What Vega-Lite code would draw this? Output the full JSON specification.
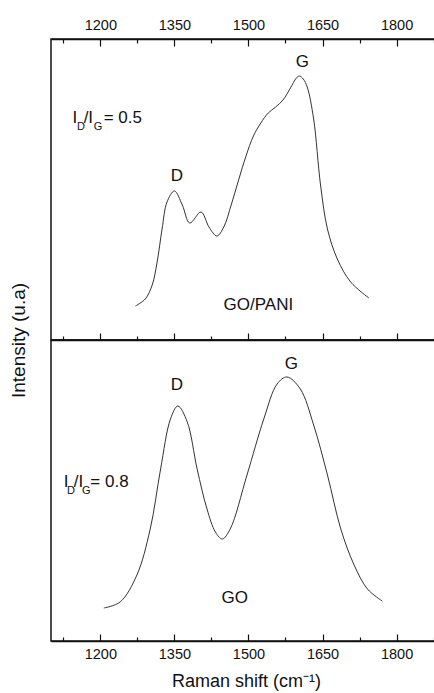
{
  "$schema": "https://vega.github.io/schema/vega-lite/v6.json",
  "padding": {"left": 8, "top": 16, "right": 0, "bottom": 1},
  "bounds": "flush",
  "config": {
    "font": "Liberation Sans",
    "view": {"stroke": "#111", "strokeWidth": 1.5},
    "concat": {"spacing": 0},
    "axis": {"grid": false, "labelColor": "#111", "titleColor": "#111", "domainColor": "#111", "tickColor": "#111"}
  },
  "datasets": {
    "gopani": [
      {"shift": 1271, "intensity": 34}, {"shift": 1291, "intensity": 41}, {"shift": 1305, "intensity": 55},
      {"shift": 1315, "intensity": 78}, {"shift": 1325, "intensity": 111}, {"shift": 1335, "intensity": 138},
      {"shift": 1350, "intensity": 149}, {"shift": 1366, "intensity": 135}, {"shift": 1381, "intensity": 117},
      {"shift": 1404, "intensity": 128}, {"shift": 1420, "intensity": 113}, {"shift": 1436, "intensity": 104},
      {"shift": 1450, "intensity": 113}, {"shift": 1465, "intensity": 135}, {"shift": 1480, "intensity": 160},
      {"shift": 1495, "intensity": 184}, {"shift": 1510, "intensity": 204}, {"shift": 1525, "intensity": 217},
      {"shift": 1540, "intensity": 227}, {"shift": 1555, "intensity": 233}, {"shift": 1570, "intensity": 240},
      {"shift": 1585, "intensity": 252}, {"shift": 1597, "intensity": 262}, {"shift": 1603, "intensity": 264},
      {"shift": 1611, "intensity": 261}, {"shift": 1619, "intensity": 253}, {"shift": 1632, "intensity": 221},
      {"shift": 1646, "intensity": 155}, {"shift": 1660, "intensity": 111}, {"shift": 1680, "intensity": 81},
      {"shift": 1707, "intensity": 58}, {"shift": 1744, "intensity": 42}
    ],
    "go": [
      {"shift": 1207, "intensity": 33}, {"shift": 1240, "intensity": 39}, {"shift": 1274, "intensity": 66},
      {"shift": 1301, "intensity": 112}, {"shift": 1322, "intensity": 172}, {"shift": 1342, "intensity": 222},
      {"shift": 1357, "intensity": 235}, {"shift": 1376, "intensity": 219}, {"shift": 1396, "intensity": 172},
      {"shift": 1416, "intensity": 132}, {"shift": 1433, "intensity": 109}, {"shift": 1447, "intensity": 102},
      {"shift": 1463, "intensity": 112}, {"shift": 1497, "intensity": 166}, {"shift": 1531, "intensity": 222},
      {"shift": 1558, "intensity": 257}, {"shift": 1578, "intensity": 264}, {"shift": 1605, "intensity": 252},
      {"shift": 1632, "intensity": 216}, {"shift": 1660, "intensity": 166}, {"shift": 1687, "intensity": 112},
      {"shift": 1714, "intensity": 76}, {"shift": 1741, "intensity": 52}, {"shift": 1771, "intensity": 40}
    ],
    "ann_top": [
      {"shift": 1355, "intensity": 164, "text": "D", "kind": "peak"},
      {"shift": 1609, "intensity": 278, "text": "G", "kind": "peak"},
      {"shift": 1520, "intensity": 35, "text": "GO/PANI", "kind": "peak"},
      {"shift": 1143.6, "intensity": 222, "text": "I", "kind": "ratio"},
      {"shift": 1152.8, "intensity": 213, "text": "D", "kind": "sub"},
      {"shift": 1166.1, "intensity": 222, "text": "/I", "kind": "ratio"},
      {"shift": 1186.4, "intensity": 213, "text": "G", "kind": "sub"},
      {"shift": 1206.7, "intensity": 222, "text": "= 0.5", "kind": "ratio"}
    ],
    "ann_bot": [
      {"shift": 1355, "intensity": 256, "text": "D", "kind": "peak"},
      {"shift": 1587, "intensity": 277, "text": "G", "kind": "peak"},
      {"shift": 1472, "intensity": 43, "text": "GO", "kind": "peak"},
      {"shift": 1125.6, "intensity": 159, "text": "I", "kind": "ratio"},
      {"shift": 1132.5, "intensity": 150, "text": "D", "kind": "sub"},
      {"shift": 1145.9, "intensity": 159, "text": "/I", "kind": "ratio"},
      {"shift": 1162.9, "intensity": 150, "text": "G", "kind": "sub"},
      {"shift": 1179.7, "intensity": 159, "text": "= 0.8", "kind": "ratio"}
    ]
  },
  "vconcat": [
    {
      "width": 390,
      "height": 301,
      "resolve": {"axis": {"x": "independent"}},
      "encoding": {
        "y": {"field": "intensity", "type": "quantitative", "scale": {"domain": [0, 301]},
              "axis": {"title": "Intensity (u.a)", "ticks": false, "labels": false, "domain": false,
                       "titleFontSize": 19, "titleFontWeight": "normal", "titleX": -33, "titleY": 301,
                       "titleAngle": -90, "titleAlign": "center", "titleBaseline": "middle"}}
      },
      "layer": [
        {
          "data": {"name": "gopani"},
          "mark": {"type": "line", "interpolate": "catmull-rom", "color": "#333", "strokeWidth": 1},
          "encoding": {
            "x": {"field": "shift", "type": "quantitative", "scale": {"domain": [1100, 1890], "nice": false, "zero": false},
                  "axis": {"orient": "top", "title": null, "values": [1125, 1200, 1275, 1350, 1425, 1500, 1575, 1650, 1725, 1800, 1875],
                           "format": "d", "labelExpr": "datum.value % 150 === 0 ? datum.label : ''",
                           "tickSize": {"condition": {"test": "datum.value % 150 === 0", "value": -7}, "value": -4},
                           "tickWidth": 1.2, "domainWidth": 1.5, "labelFontSize": 14.5, "labelPadding": 14, "labelFlush": false}}
          }
        },
        {
          "data": {"name": "ann_top"},
          "transform": [{"filter": "datum.kind === 'peak'"}],
          "mark": {"type": "text", "fontSize": 17, "align": "center", "baseline": "middle", "color": "#111"},
          "encoding": {
            "x": {"field": "shift", "type": "quantitative",
                  "axis": {"orient": "bottom", "title": null, "labels": false, "values": [1125, 1200, 1275, 1350, 1425, 1500, 1575, 1650, 1725, 1800, 1875],
                           "tickSize": {"condition": {"test": "datum.value % 150 === 0", "value": -7}, "value": -4},
                           "tickWidth": 1.2, "domainWidth": 1.5}},
            "text": {"field": "text"}
          }
        },
        {
          "data": {"name": "ann_top"},
          "transform": [{"filter": "datum.kind === 'ratio'"}],
          "mark": {"type": "text", "fontSize": 17, "align": "left", "baseline": "middle", "color": "#111"},
          "encoding": {
            "x": {"field": "shift", "type": "quantitative", "axis": null},
            "text": {"field": "text"}
          }
        },
        {
          "data": {"name": "ann_top"},
          "transform": [{"filter": "datum.kind === 'sub'"}],
          "mark": {"type": "text", "fontSize": 11, "align": "left", "baseline": "middle", "color": "#111"},
          "encoding": {
            "x": {"field": "shift", "type": "quantitative", "axis": null},
            "text": {"field": "text"}
          }
        }
      ]
    },
    {
      "width": 390,
      "height": 301,
      "encoding": {
        "y": {"field": "intensity", "type": "quantitative", "scale": {"domain": [0, 301]}, "axis": null},
        "x": {"field": "shift", "type": "quantitative", "scale": {"domain": [1100, 1890], "nice": false, "zero": false},
              "axis": {"orient": "bottom", "title": "Raman shift (cm⁻¹)", "values": [1125, 1200, 1275, 1350, 1425, 1500, 1575, 1650, 1725, 1800, 1875],
                       "format": "d", "labelExpr": "datum.value % 150 === 0 ? datum.label : ''",
                       "tickSize": {"condition": {"test": "datum.value % 150 === 0", "value": -7}, "value": -4},
                       "tickWidth": 1.2, "domainWidth": 1.5, "labelFontSize": 14.5, "labelPadding": 13, "labelFlush": false,
                       "titleFontSize": 18, "titleFontWeight": "normal", "titlePadding": 12}}
      },
      "layer": [
        {
          "data": {"name": "go"},
          "mark": {"type": "line", "interpolate": "catmull-rom", "color": "#333", "strokeWidth": 1}
        },
        {
          "data": {"name": "ann_bot"},
          "transform": [{"filter": "datum.kind === 'peak'"}],
          "mark": {"type": "text", "fontSize": 17, "align": "center", "baseline": "middle", "color": "#111"},
          "encoding": {"text": {"field": "text"}}
        },
        {
          "data": {"name": "ann_bot"},
          "transform": [{"filter": "datum.kind === 'ratio'"}],
          "mark": {"type": "text", "fontSize": 17, "align": "left", "baseline": "middle", "color": "#111"},
          "encoding": {"text": {"field": "text"}}
        },
        {
          "data": {"name": "ann_bot"},
          "transform": [{"filter": "datum.kind === 'sub'"}],
          "mark": {"type": "text", "fontSize": 11, "align": "left", "baseline": "middle", "color": "#111"},
          "encoding": {"text": {"field": "text"}}
        }
      ]
    }
  ]
}
